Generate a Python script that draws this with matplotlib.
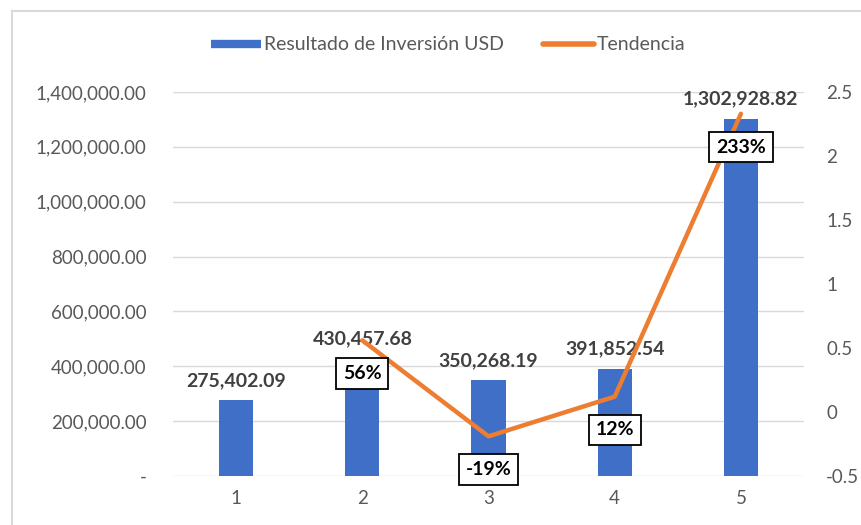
import matplotlib.pyplot as plt
from matplotlib.lines import Line2D

plt.rcParams['font.family'] = ['Lato', 'DejaVu Sans']

periodos = [1, 2, 3, 4, 5]
resultado = [275402.09, 430457.68, 350268.19, 391852.54, 1302928.82]
tend_x = [2, 3, 4, 5]
tendencia = [0.56, -0.19, 0.12, 2.33]
tend_labels = ['56%', '-19%', '12%', '233%']

gris = '#595959'

fig = plt.figure(figsize=(8.62, 5.25), dpi=100)
ax = fig.add_axes([173 / 862, 1 - 476 / 525, 631 / 862, 384 / 525])
ax2 = ax.twinx()

# marco del grafico (solo arriba e izquierda visibles)
fig.add_artist(Line2D([12 / 862, 1], [1 - 11 / 525] * 2, color='#d9d9d9', lw=1.5))
fig.add_artist(Line2D([12 / 862] * 2, [0, 1 - 11 / 525], color='#d9d9d9', lw=1.5))

bars = ax.bar(periodos, resultado, width=0.27, color='#3F6FC6', zorder=2)
ax.set_ylim(0, 1400000)
ax.set_xlim(0.5, 5.5)
ax.set_yticks(range(0, 1400001, 200000))
ax.set_yticklabels(['-'] + ['{:,.2f}'.format(v) for v in range(200000, 1400001, 200000)])
ax.yaxis.grid(True, color='#d9d9d9', lw=1)
ax.set_axisbelow(True)
ax.set_xticks(periodos)
for s in ax.spines.values():
    s.set_visible(False)
for s in ax2.spines.values():
    s.set_visible(False)
ax.tick_params(axis='both', length=0, labelsize=13.5, colors=gris, pad=10)
ax.tick_params(axis='y', pad=19)

for x, v in zip(periodos, resultado):
    ax.annotate('{:,.2f}'.format(v), (x, v), xytext=(0, 8), textcoords='offset points',
                ha='center', va='bottom', fontsize=14, fontweight='bold', color='#404040',
                zorder=5)

ax2.plot(tend_x, tendencia, color='#ED7D31', lw=3.2, solid_capstyle='round', zorder=3)
ax2.set_ylim(-0.5, 2.5)
ax2.set_yticks([-0.5, 0, 0.5, 1, 1.5, 2, 2.5])
ax2.set_yticklabels(['-0.5', '0', '0.5', '1', '1.5', '2', '2.5'])
ax2.tick_params(axis='y', length=0, labelsize=13.5, colors=gris, pad=16)

for x, v, t in zip(tend_x, tendencia, tend_labels):
    ax2.annotate(t, (x, v), xytext=(0, -24), textcoords='offset points',
                 ha='center', va='center', fontsize=14, fontweight='bold', color='black',
                 bbox=dict(boxstyle='square,pad=0.35', fc='white', ec='black', lw=1.3),
                 zorder=6)

handles = [Line2D([0], [0], color='#3F6FC6', lw=6, solid_capstyle='butt'),
           Line2D([0], [0], color='#ED7D31', lw=4, solid_capstyle='round')]
fig.legend(handles, ['Resultado de Inversión USD', 'Tendencia'], loc='center',
           bbox_to_anchor=(448 / 862, 1 - 45 / 525), ncol=2, frameon=False,
           fontsize=14, labelcolor=gris, handlelength=2.6, handletextpad=0.15,
           columnspacing=2.0)

fig.savefig('out.png', dpi=100)
